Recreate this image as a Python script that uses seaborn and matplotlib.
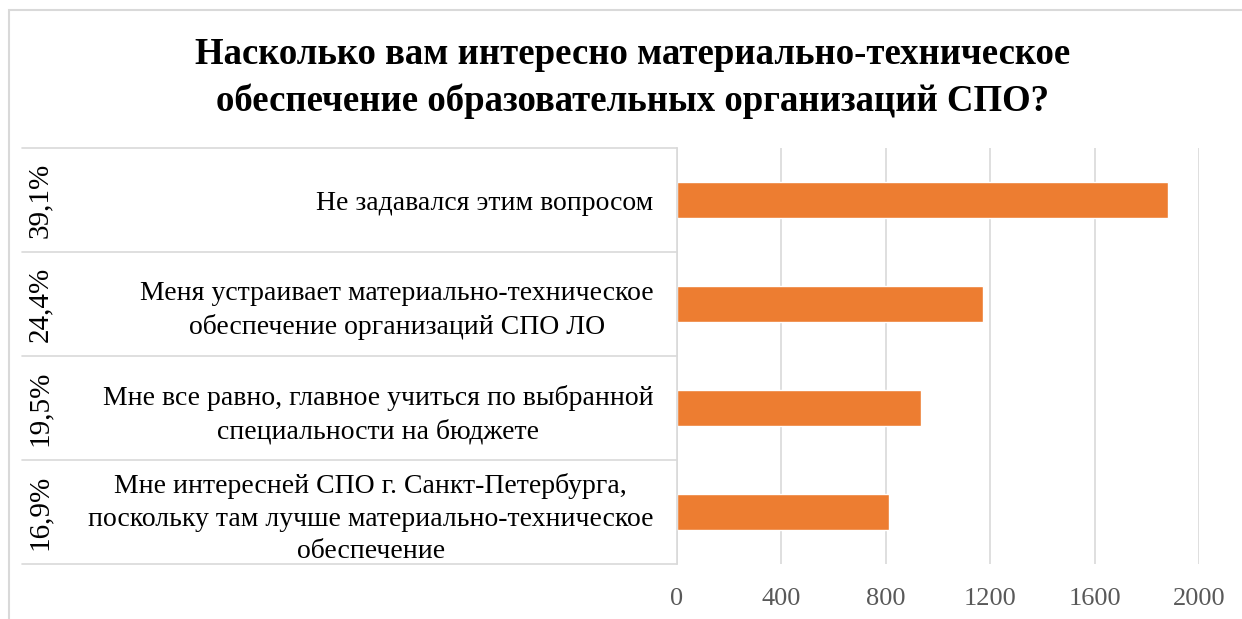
import matplotlib
matplotlib.use("Agg")
import matplotlib.pyplot as plt
from matplotlib.patches import Rectangle
import seaborn as sns
import pandas as pd

# Data
answers = [
    "Не задавался этим вопросом",
    "Меня устраивает материально-техническое\nобеспечение организаций СПО ЛО",
    "Мне все равно, главное учиться по выбранной\nспециальности на бюджете",
    "Мне интересней СПО г. Санкт-Петербурга,\nпоскольку там лучше материально-техническое\nобеспечение",
]
counts = [1880, 1172, 936, 812]
shares = ["39,1%", "24,4%", "19,5%", "16,9%"]
xticks = [0, 400, 800, 1200, 1600, 2000]

title = ("Насколько вам интересно материально-техническое\n"
         "обеспечение образовательных организаций СПО?")

sns.set_theme(style="white")
plt.rcParams["font.family"] = ["Liberation Serif", "DejaVu Serif"]

W, H = 1242, 619
fig = plt.figure(figsize=(W / 100, H / 100), dpi=100)
x0, x1, y0, y1 = 677, 1199, 148, 564
ax = fig.add_axes([x0 / W, 1 - y1 / H, (x1 - x0) / W, (y1 - y0) / H])

df = pd.DataFrame({"answer": answers, "count": counts})
sns.barplot(data=df, x="count", y="answer", orient="h", color="#ED7D31",
            saturation=1, width=0.35, ax=ax)

ax.set_xlim(0, 2000)
ax.set_ylim(3.5, -0.5)
ax.set_xticks(xticks)
ax.set_xticklabels([str(v) for v in xticks])
ax.set_xlabel("")
ax.set_ylabel("")
ax.grid(axis="x", color="#d9d9d9", linewidth=1.2)
ax.set_axisbelow(True)
for s in ["top", "right", "bottom"]:
    ax.spines[s].set_visible(False)
ax.spines["left"].set_color("#d9d9d9")
ax.spines["left"].set_linewidth(1.2)

ax.tick_params(axis="x", length=0, pad=17, labelsize=19, labelcolor="#595959")
ax.tick_params(axis="y", length=0, pad=17, labelsize=20, labelcolor="black")
for t in ax.get_yticklabels():
    t.set_multialignment("center")
    t.set_linespacing(1.4)

# table lines and share column on the left
left_frac = (22 - x0) / (x1 - x0)
ytr = ax.get_yaxis_transform()
for b in [-0.5, 0.5, 1.5, 2.5, 3.5]:
    ax.plot([left_frac, 0], [b, b], transform=ytr, color="#d9d9d9",
            linewidth=1.2, clip_on=False)
share_x = (40 - x0) / (x1 - x0)
for i, s in enumerate(shares):
    ax.text(share_x, i, s, transform=ytr, rotation=90, ha="center",
            va="center", fontsize=21, color="black")

fig.text(633 / W, 1 - 78 / H, title, ha="center", va="center",
         fontsize=26.5, fontweight="bold", color="black", linespacing=1.4)

# outer chart frame
fig.patches.append(Rectangle((9 / W, -0.2), 1.5, 1.2 - 10 / H,
                             transform=fig.transFigure, fill=False,
                             edgecolor="#d9d9d9", linewidth=1.5))

fig.savefig("out.png", dpi=100)
